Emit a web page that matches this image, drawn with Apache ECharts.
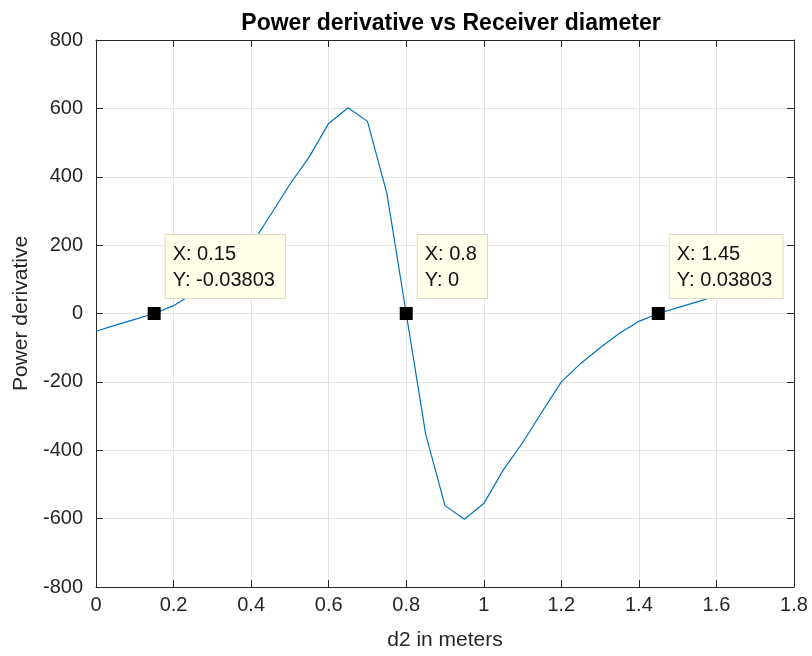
<!DOCTYPE html>
<html>
<head>
<meta charset="utf-8">
<script src="https://cdn.jsdelivr.net/npm/echarts@6/dist/echarts.min.js"></script>
<style>
html,body{margin:0;padding:0;background:#fff;}
#chart{width:812px;height:656px;}
</style>
</head>
<body>
<div id="chart"></div>
<script>
var xValues = [0, 0.05, 0.1, 0.15, 0.2, 0.25, 0.3, 0.35, 0.4, 0.45, 0.5, 0.55, 0.6, 0.65, 0.7, 0.75, 0.8,
  0.85, 0.9, 0.95, 1.0, 1.05, 1.1, 1.15, 1.2, 1.25, 1.3, 1.35, 1.4, 1.45, 1.5, 1.55, 1.6];
var yValues = [-52, -34, -17, -0.03803, 23, 58, 100, 146, 200, 288, 378, 458, 556, 602, 562, 352, 0,
  -352, -562, -602, -556, -458, -378, -288, -200, -146, -100, -58, -23, 0.03803, 17, 34, 52];
var tipX = [0.15, 0.8, 1.45];
var tipY = [-0.03803, 0, 0.03803];
var xTicks = { min: 0, max: 1.8, interval: 0.2 };
var yTicks = { min: -800, max: 800, interval: 200 };

var FONT = "'Liberation Sans', Arial, Helvetica, sans-serif";
var TXT = '#262626';

var lineData = xValues.map(function (x, i) { return [x, yValues[i]]; });
var tipData = tipX.map(function (x, i) { return [x, tipY[i]]; });

var chart = echarts.init(document.getElementById('chart'), null, { renderer: 'canvas' });

function axisCommon(showLabel, margin) {
  return {
    axisLine: { show: true, onZero: false, lineStyle: { color: TXT, width: 1 } },
    axisTick: { show: true, inside: true, length: 7, lineStyle: { color: TXT, width: 1 } },
    axisLabel: { show: showLabel, color: TXT, fontSize: 20, fontFamily: FONT, margin: margin || 8 },
    splitLine: { show: showLabel, lineStyle: { color: '#e3e3e3', width: 1 } }
  };
}

var option = {
  backgroundColor: '#ffffff',
  animation: false,
  title: {
    text: 'Power derivative vs Receiver diameter',
    left: 446, top: 7, textAlign: 'center',
    textStyle: { fontSize: 23, fontWeight: 'bold', color: '#000', fontFamily: FONT }
  },
  grid: { left: 96, right: 18, top: 40, bottom: 67, containLabel: false },
  xAxis: [
    Object.assign({
      type: 'value', min: xTicks.min, max: xTicks.max, interval: xTicks.interval,
      name: 'd2 in meters', nameLocation: 'middle', nameGap: 43,
      nameTextStyle: { fontSize: 21, color: TXT, fontFamily: FONT }
    }, axisCommon(true, 8)),
    Object.assign({
      type: 'value', position: 'top', min: xTicks.min, max: xTicks.max, interval: xTicks.interval
    }, axisCommon(false))
  ],
  yAxis: [
    Object.assign({
      type: 'value', min: yTicks.min, max: yTicks.max, interval: yTicks.interval,
      name: 'Power derivative', nameLocation: 'middle', nameGap: 63,
      nameTextStyle: { fontSize: 21, color: TXT, fontFamily: FONT }
    }, axisCommon(true, 13)),
    Object.assign({
      type: 'value', position: 'right', min: yTicks.min, max: yTicks.max, interval: yTicks.interval
    }, axisCommon(false))
  ],
  series: [
    {
      type: 'line', xAxisIndex: 0, yAxisIndex: 0, data: lineData,
      showSymbol: false, smooth: false, z: 2,
      lineStyle: { color: '#0072BD', width: 1.2 },
      itemStyle: { color: '#0072BD' }
    },
    {
      type: 'scatter', xAxisIndex: 0, yAxisIndex: 0, data: tipData, z: 5,
      symbol: 'rect', symbolSize: 13,
      itemStyle: { color: '#000', opacity: 1 },
      label: {
        show: true,
        position: [18, -72],
        formatter: function (p) { return 'X: ' + p.value[0] + '\nY: ' + p.value[1]; },
        fontSize: 20, lineHeight: 26, color: '#111', fontFamily: FONT,
        backgroundColor: '#FFFFEA',
        borderColor: '#dcd9bf', borderWidth: 1,
        padding: [6, 10, 5, 7]
      }
    }
  ]
};
chart.setOption(option);
</script>
</body>
</html>
